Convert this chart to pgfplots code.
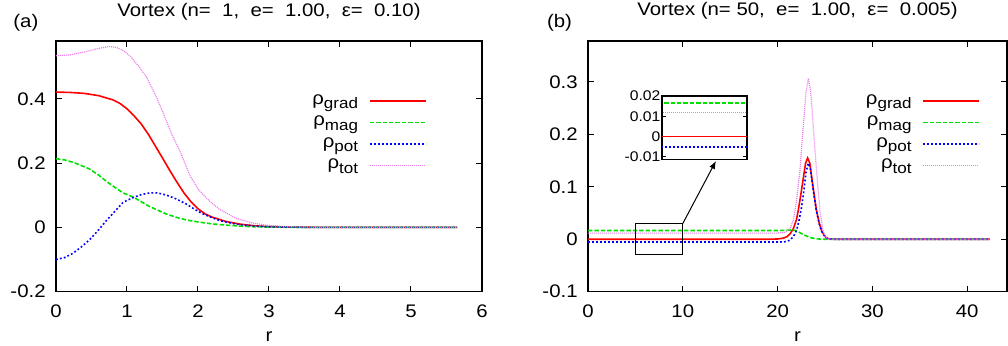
\documentclass[border=0pt]{standalone}
\usepackage{fontspec}
\setmainfont{Liberation Sans}[FakeStretch=1.12]
\usepackage{pgfplots}
\pgfplotsset{compat=1.18}
\usetikzlibrary{arrows.meta}

\definecolor{cgrad}{RGB}{255,0,0}
\definecolor{cmag}{RGB}{0,225,0}
\definecolor{cpot}{RGB}{0,0,255}
\definecolor{ctot}{RGB}{235,120,235}

\newcommand{\mainfont}{\fontsize{9.1}{10}\selectfont}
\newcommand{\lsub}[1]{\raisebox{-2.2pt}{\fontsize{7.6}{8}\selectfont #1}}

\pgfplotsset{
  gradstyle/.style={cgrad, line width=0.8pt},
  magstyle/.style={cmag, line width=0.8pt, dash pattern=on 2.2pt off 1pt},
  potstyle/.style={cpot, line width=0.8pt, dash pattern=on 0.9pt off 1.1pt},
  totstyle/.style={ctot, line width=0.6pt, dash pattern=on 0.5pt off 0.5pt},
  myaxis/.style={
    scale only axis,
    axis line style={line width=0.7pt},
    tick style={black, line width=0.5pt},
    major tick length=2.8pt,
    tick align=inside,
    minor tick num=0,
    scaled ticks=false,
    tick label style={font=\mainfont},
    xticklabel style={anchor=base, inner sep=0pt, yshift=-12.8pt},
    yticklabel style={anchor=east, inner sep=0pt, xshift=-5pt},
    xlabel style={font=\mainfont, anchor=base, inner sep=0pt, at={(axis description cs:0.5,0)}, yshift=-25pt},
    title style={font=\mainfont, anchor=base, inner sep=0pt, at={(axis description cs:0.5,1)}, yshift=6.5pt},
    legend plot pos=right,
    legend cell align=right,
    legend image code/.code={\path (0pt,0pt); \draw[##1] (5.5pt,0pt) -- (33.5pt,0pt);},
    legend style={draw=none, fill=none, inner sep=0pt, row sep=0pt, font=\mainfont,
      nodes={inner sep=0pt, text height=7pt, text depth=3.75pt}},
  }
}

\begin{document}
\begin{tikzpicture}
\useasboundingbox (0,0) rectangle (504pt,173pt);

% ---------------- panel (a)
\begin{axis}[myaxis,
  at={(28pt,27.15pt)}, anchor=south west,
  width=213pt, height=125.35pt,
  xmin=0, xmax=6, ymin=-0.2, ymax=0.58,
  xtick={0,1,2,3,4,5,6}, xticklabels={0,1,2,3,4,5,6},
  ytick={-0.2,0,0.2,0.4}, yticklabels={-0.2,0,0.2,0.4},
  xlabel={r},
  title={Vortex (n=\ \ 1,\ \ e=\ \ 1.00,\ \ ε=\ \ 0.10)},
  legend style={at={(0.871,0.805)}, anchor=north east},
]
\addplot[gradstyle] coordinates {
(0,0.421)(0.2,0.420)(0.4,0.417)(0.6,0.410)(0.8,0.397)(0.9,0.386)(1.0,0.369)
(1.1,0.347)(1.2,0.322)(1.3,0.290)(1.4,0.253)(1.5,0.216)(1.6,0.178)(1.7,0.142)
(1.8,0.108)(1.9,0.080)(2.0,0.058)(2.1,0.042)(2.2,0.032)(2.4,0.018)(2.6,0.010)
(2.8,0.005)(3.0,0.0025)(3.3,0.001)(3.7,0.0002)(4.2,0)(5.65,0)};
\addlegendentry{ρ\lsub{grad}}
\addplot[magstyle] coordinates {
(0,0.214)(0.12,0.210)(0.235,0.203)(0.35,0.193)(0.47,0.182)(0.6,0.163)(0.7,0.145)
(0.82,0.126)(0.94,0.108)(1.1,0.093)(1.2,0.080)(1.31,0.066)(1.43,0.054)(1.55,0.042)
(1.7,0.031)(1.84,0.023)(2.0,0.017)(2.2,0.011)(2.4,0.007)(2.6,0.004)(2.8,0.002)
(3.0,0.001)(3.5,0.0002)(4.0,0)(5.65,0)};
\addlegendentry{ρ\lsub{mag}}
\addplot[potstyle] coordinates {
(0,-0.100)(0.12,-0.094)(0.235,-0.081)(0.35,-0.062)(0.47,-0.039)(0.6,-0.008)
(0.7,0.019)(0.82,0.048)(0.94,0.077)(1.0,0.084)(1.1,0.094)(1.2,0.102)(1.31,0.107)
(1.4,0.108)(1.5,0.104)(1.6,0.097)(1.7,0.088)(1.84,0.072)(2.0,0.050)(2.07,0.042)
(2.2,0.030)(2.31,0.021)(2.54,0.010)(2.8,0.004)(3.0,0.002)(3.5,0.0003)(4.0,0)(5.65,0)};
\addlegendentry{ρ\lsub{pot}}
\addplot[totstyle] coordinates {
(0,0.534)(0.2,0.537)(0.4,0.546)(0.6,0.557)(0.75,0.563)(0.85,0.560)(0.95,0.550)
(1.04,0.534)(1.16,0.503)(1.28,0.466)(1.42,0.403)(1.56,0.329)(1.64,0.285)(1.75,0.235)
(1.89,0.160)(2.0,0.120)(2.1,0.095)(2.2,0.075)(2.31,0.055)(2.54,0.028)(2.78,0.013)
(3.0,0.006)(3.3,0.002)(3.7,0.0005)(4.2,0)(5.65,0)};
\addlegendentry{ρ\lsub{tot}}
\end{axis}

% ---------------- panel (b)
\begin{axis}[myaxis,
  at={(294pt,27.15pt)}, anchor=south west,
  width=209.5pt, height=125.35pt,
  xmin=0, xmax=44.2, ymin=-0.1, ymax=0.378,
  xtick={0,10,20,30,40}, xticklabels={0,10,20,30,40},
  ytick={-0.1,0,0.1,0.2,0.3}, yticklabels={-0.1,0,0.1,0.2,0.3},
  xlabel={r},
  title={Vortex (n=\ 50,\ \ e=\ \ 1.00,\ \ ε=\ \ 0.005)},
  legend style={at={(0.937,0.805)}, anchor=north east},
]
\addplot[gradstyle] coordinates {
(0,0)(19,0)(20,0.0005)(20.6,0.002)(21,0.005)(21.3,0.010)(21.66,0.020)(22,0.038)
(22.18,0.055)(22.45,0.085)(22.7,0.115)(22.95,0.145)(23.17,0.155)(23.4,0.145)
(23.6,0.118)(23.85,0.085)(24.1,0.055)(24.4,0.030)(24.65,0.016)(25,0.005)
(25.2,0.002)(25.5,0.0005)(26,0)(42.4,0)};
\addlegendentry{ρ\lsub{grad}}
\addplot[magstyle] coordinates {
(0,0.0166)(20,0.0166)(21,0.0172)(21.6,0.018)(22,0.016)(22.5,0.011)(23,0.0065)
(23.5,0.003)(24,0.0012)(24.5,0.0003)(25,0)(42.4,0)};
\addlegendentry{ρ\lsub{mag}}
\addplot[potstyle] coordinates {
(0,-0.0053)(20,-0.0053)(20.7,-0.005)(21.3,-0.002)(21.7,0.006)(22,0.017)(22.25,0.035)
(22.5,0.058)(22.75,0.090)(23,0.128)(23.24,0.145)(23.45,0.135)(23.6,0.115)(23.85,0.083)
(24.1,0.054)(24.4,0.029)(24.65,0.015)(25,0.005)(25.3,0.001)(26,0)(42.4,0)};
\addlegendentry{ρ\lsub{pot}}
\addplot[totstyle] coordinates {
(0,0.0117)(20,0.0117)(20.8,0.013)(21.3,0.020)(21.66,0.036)(22,0.074)(22.36,0.132)
(22.7,0.214)(23,0.280)(23.24,0.307)(23.5,0.280)(23.77,0.214)(24.1,0.132)(24.47,0.055)
(24.75,0.020)(25,0.005)(25.3,0.001)(26,0)(42.4,0)};
\addlegendentry{ρ\lsub{tot}}
\draw[black, line width=0.5pt] (axis cs:5,-0.03) rectangle (axis cs:10,0.03);
\draw[black, line width=0.5pt, -{Latex[length=4pt,width=3pt]}] (axis cs:10,0.03) -- (axis cs:13.5,0.1494);
\end{axis}

% ---------------- inset
\begin{axis}[
  scale only axis,
  at={(331pt,93.35pt)}, anchor=south west,
  width=42.5pt, height=31.65pt,
  xmin=5, xmax=10, ymin=-0.0113, ymax=0.02,
  scaled ticks=false,
  axis background/.style={fill=white},
  axis line style={line width=0.7pt},
  tick style={black, line width=0.5pt},
  major tick length=2pt,
  tick align=inside,
  xtick=\empty,
  ytick={-0.01,0,0.01,0.02}, yticklabels={-0.01,0,0.01,0.02},
  yticklabel style={font=\fontsize{7}{7}\selectfont, anchor=east, inner sep=0pt, xshift=-0.6pt},
]
\addplot[gradstyle] coordinates {(4,0)(11,0)};
\addplot[magstyle] coordinates {(4,0.0166)(11,0.0166)};
\addplot[potstyle] coordinates {(4,-0.0053)(11,-0.0053)};
\addplot[totstyle] coordinates {(4,0.0117)(11,0.0117)};
\end{axis}

\node[font=\mainfont, anchor=base west, inner sep=0pt] at (6.5pt,159pt) {(a)};
\node[font=\mainfont, anchor=base west, inner sep=0pt] at (273.3pt,159pt) {(b)};
\end{tikzpicture}
\end{document}
